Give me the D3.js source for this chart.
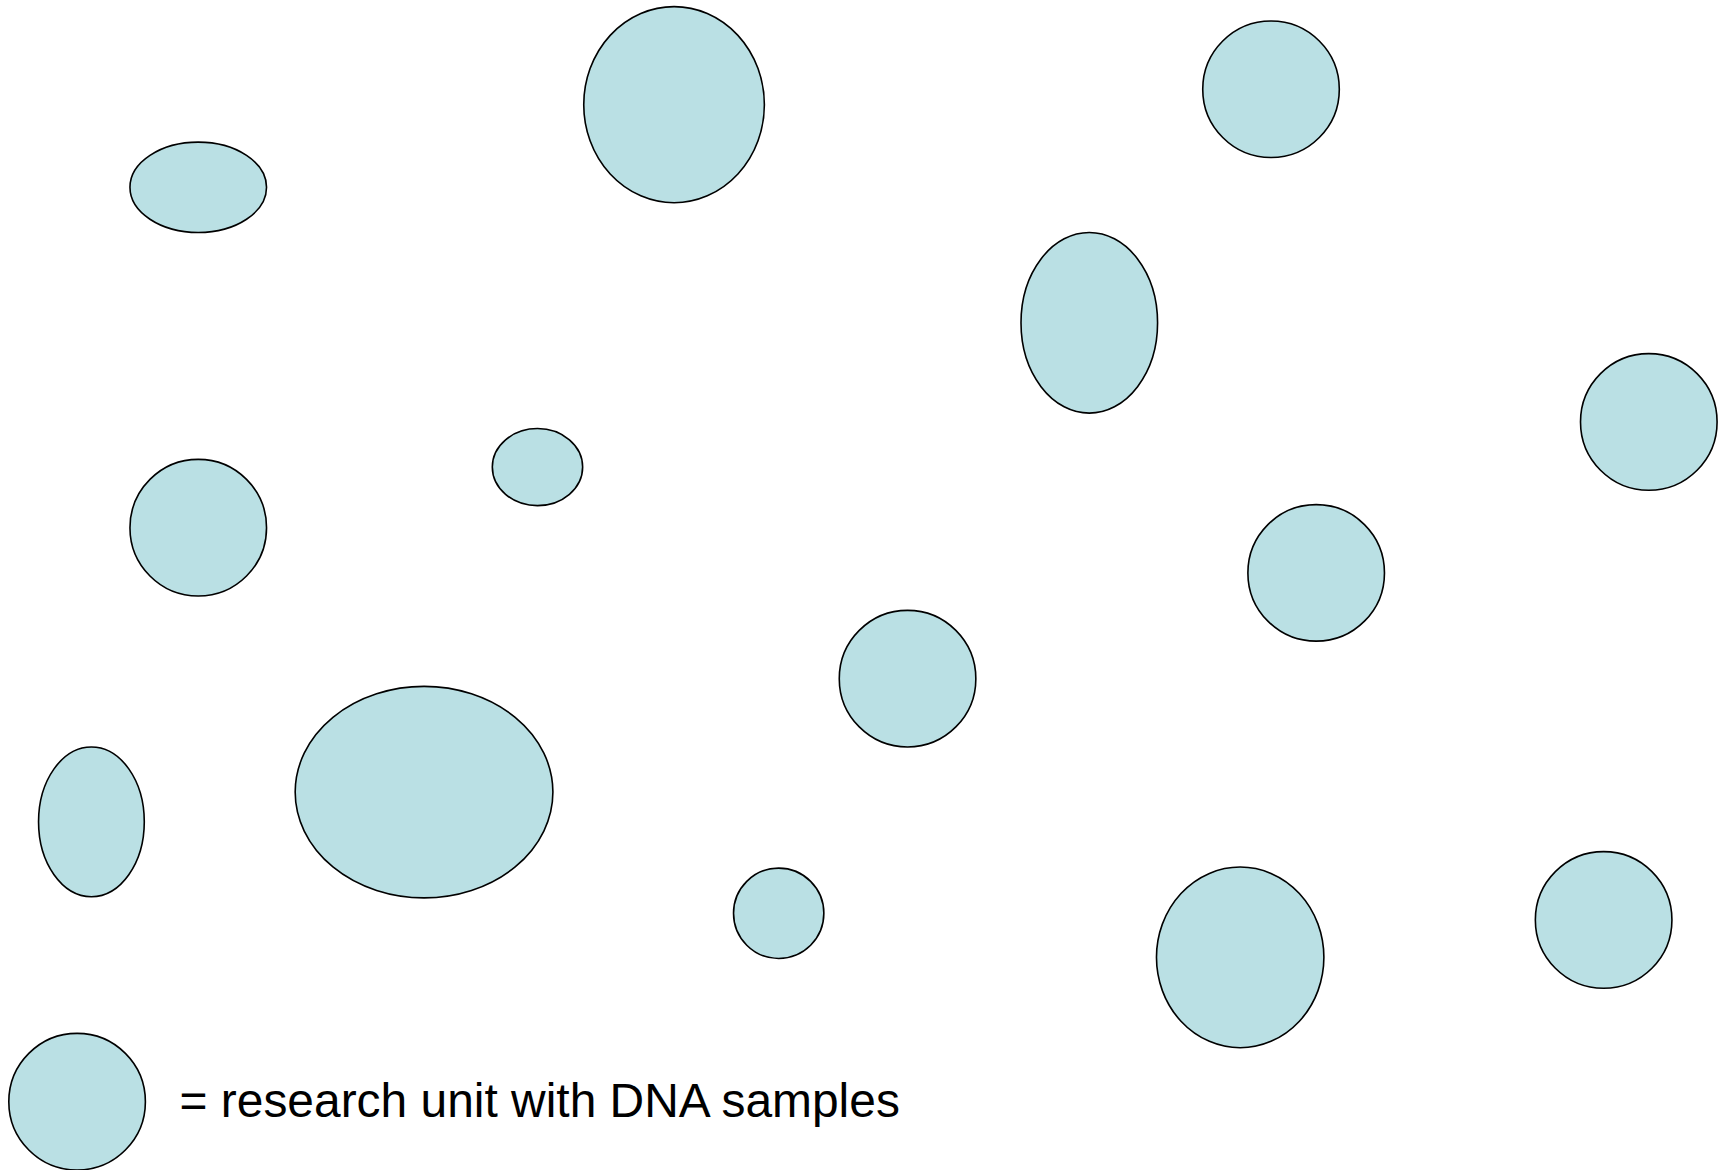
<!DOCTYPE html>
<html>
<head>
<meta charset="utf-8">
<style>
html,body{margin:0;padding:0;background:#fff;}
svg{display:block;}
</style>
<script src="https://cdn.jsdelivr.net/npm/d3@7"></script>
</head>
<body>
<svg id="chart" width="1727" height="1170"></svg>
<script>
// Research units (x, y, horizontal radius, vertical radius) in reference units
const unitX  = [180, 612, 1154, 989, 1497, 488, 180, 1195, 824, 83, 385, 707, 1126, 1456];
const unitY  = [170,  95,   81, 293,  383, 424, 479,  520, 616, 746, 719, 829, 869, 835];
const unitRX = [ 62,  82,   62,  62,   62,  41,  62,   62,  62, 48, 117, 41, 76, 62];
const unitRY = [ 41,  89,   62,  82,   62,  35,  62,   62,  62, 68,  96, 41, 82, 62];
const legendUnit = {x: 70, y: 1000, rx: 62, ry: 62};
const legendLabel = "= research unit with DNA samples";

const W = 1727, H = 1170;
const x = d3.scaleLinear().domain([0, 1568]).range([0, W]);
const y = d3.scaleLinear().domain([0, 1062]).range([0, H]);
const r = d3.scaleLinear().domain([0, 1568]).range([0, W]);

const svg = d3.select("#chart");
const units = unitX.map((v, i) => ({x: v, y: unitY[i], rx: unitRX[i], ry: unitRY[i]}));

svg.selectAll("ellipse.unit").data(units).join("ellipse")
  .attr("class", "unit")
  .attr("cx", d => x(d.x)).attr("cy", d => y(d.y))
  .attr("rx", d => r(d.rx)).attr("ry", d => r(d.ry))
  .attr("fill", "#bae0e4").attr("stroke", "#000").attr("stroke-width", 1.6);

svg.append("ellipse")
  .attr("cx", x(legendUnit.x)).attr("cy", y(legendUnit.y))
  .attr("rx", r(legendUnit.rx)).attr("ry", r(legendUnit.ry))
  .attr("fill", "#bae0e4").attr("stroke", "#000").attr("stroke-width", 1.6);

svg.append("text")
  .attr("x", x(163)).attr("y", y(1014))
  .attr("font-family", "Liberation Sans, Arial, sans-serif")
  .attr("font-size", 48)
  .attr("fill", "#000")
  .attr("textLength", x(817) - x(163))
  .attr("lengthAdjust", "spacingAndGlyphs")
  .text(legendLabel);
</script>
</body>
</html>
